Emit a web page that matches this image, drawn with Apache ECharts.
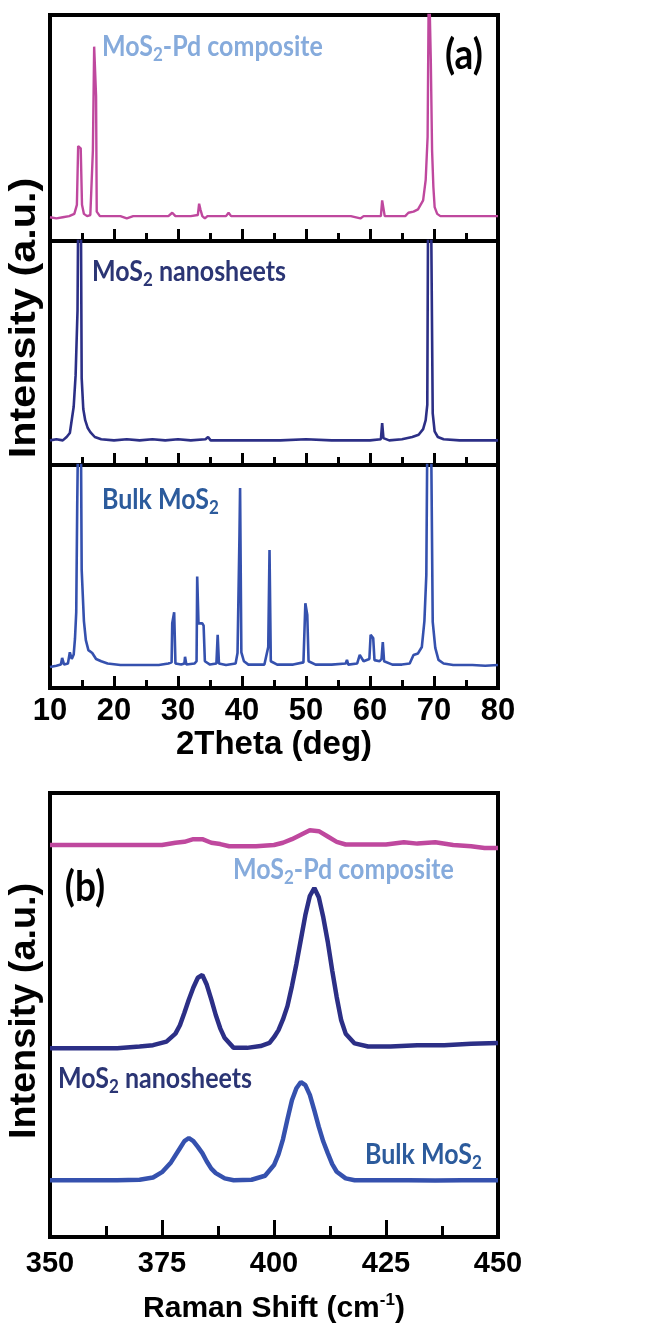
<!DOCTYPE html>
<html>
<head>
<meta charset="utf-8">
<script src="https://cdn.jsdelivr.net/npm/echarts@6/dist/echarts.min.js"></script>
<style>
  html, body { margin: 0; padding: 0; background: #fff; }
  #chart { width: 650px; height: 1330px; }
</style>
</head>
<body>
<div id="chart"></div>
<script>
// (a) XRD patterns, [2theta, intensity] (arbitrary units, 0-100 per panel)
const xrdComposite = [
  [10, 10.5], [11, 10], [12, 10.5], [13, 11], [13.8, 12], [14.2, 16], [14.4, 42], [14.6, 42],
  [14.8, 41], [15.0, 16], [15.3, 12], [15.8, 11], [16.3, 11.5], [16.7, 40], [16.9, 86], [17.0, 86],
  [17.2, 64], [17.3, 13], [17.8, 11], [19, 11], [21, 11], [22, 10], [23, 11], [25, 11], [27, 11],
  [28.5, 11], [29.1, 12.5], [29.6, 11], [32, 11], [33.1, 11.5], [33.3, 16.5], [33.5, 14], [33.8, 11],
  [34.2, 10], [34.6, 11], [36, 11], [37.5, 11], [37.9, 12.5], [38.3, 11], [42, 11], [45, 11],
  [47.5, 11], [50, 11], [52, 11], [55, 11], [57, 11], [58.5, 10], [59, 11], [61.7, 11], [61.9, 18],
  [62.1, 18], [62.3, 11], [64, 11], [65.5, 11], [66, 12.5], [66.8, 13], [67.5, 14], [68.3, 18],
  [68.7, 27], [69.0, 46], [69.2, 120], [69.35, 120], [69.5, 80], [69.7, 40], [69.9, 24], [70.1, 15],
  [70.5, 12], [71, 11], [72, 11], [75, 11], [78, 11], [80, 11]
];
const xrdNanosheets = [
  [10, 11], [11, 11.5], [12, 11], [12.6, 12.5], [13.1, 14.3], [13.7, 26], [14.0, 40], [14.3, 69],
  [14.45, 130], [14.8, 130], [14.95, 38.8], [15.2, 25], [15.5, 20], [15.9, 16.5], [16.3, 14.7],
  [17, 12.5], [18, 11.5], [20, 11], [22, 11.5], [24, 11], [26, 11.5], [28, 11], [30, 11.5],
  [32, 11], [34.3, 11.5], [34.7, 12.5], [35.1, 11], [38, 11], [42, 11], [46, 11], [50, 11.5],
  [54, 11], [58, 11], [60, 11], [61.7, 11.5], [61.9, 18.7], [62.1, 12], [63, 11], [65, 11.5],
  [66.6, 12.5], [67.6, 13.5], [68.3, 16], [68.7, 20], [68.95, 26.8], [69.1, 130], [69.5, 130],
  [69.8, 23], [70.1, 15], [70.6, 12.5], [71.5, 11.5], [74, 11], [77, 11], [80, 11]
];
const xrdBulk = [
  [10, 9.4], [11, 10], [11.7, 10.5], [11.9, 13.5], [12.2, 10.5], [12.8, 11], [13.1, 16],
  [13.4, 13], [13.7, 15], [13.9, 22], [14.1, 34], [14.25, 81], [14.45, 130], [14.8, 130], [14.95, 53],
  [15.3, 30], [15.6, 21.5], [16.0, 17], [16.6, 15.7], [17.2, 13], [18, 12], [19, 11], [21, 10.3],
  [24, 10.3], [27, 10.3], [28.5, 11], [29.0, 11.5], [29.1, 29], [29.4, 34], [29.6, 11], [30.5, 10.5],
  [31.0, 11], [31.1, 14], [31.3, 10.5], [32.6, 11], [32.9, 12], [33.0, 50], [33.2, 29], [33.5, 29],
  [33.8, 29], [34.0, 28], [34.2, 12], [35, 10.5], [36.0, 11], [36.2, 23.8], [36.4, 11], [37.5, 10.3],
  [39.0, 11], [39.3, 15.7], [39.6, 67.7], [39.7, 89.7], [39.9, 16], [40.3, 12], [41, 10.5],
  [43.5, 10.5], [44.1, 18.4], [44.3, 61.9], [44.5, 12], [45.5, 10.5], [48, 10.5], [49.6, 11.5],
  [49.9, 38], [50.2, 32.7], [50.4, 12], [51.5, 10.5], [54, 10.5], [56.2, 11], [56.4, 12.6],
  [56.6, 10.5], [58.0, 11], [58.4, 14.8], [59.0, 12], [59.9, 13], [60.1, 23.8], [60.5, 22.4],
  [60.7, 12.5], [61.5, 12], [61.8, 13], [62.0, 20.6], [62.2, 12], [63.5, 10.5], [65, 10.5],
  [66.2, 11], [66.8, 14.8], [67.5, 15.5], [68.1, 18.4], [68.5, 30], [68.8, 50.7], [69.0, 130],
  [69.5, 130], [69.8, 29.6], [70.2, 18], [70.7, 12.6], [71.5, 11], [73, 10.3], [76, 10.3],
  [78, 10], [80, 10.3]
];

// (b) Raman spectra, [shift, intensity]
const ramanComposite = [
  [350, 88.3], [360, 88.3], [370, 88.3], [375, 88.3], [378, 88.8], [380, 89.0], [382, 89.6],
  [384, 89.6], [386, 88.8], [388, 88.5], [390, 88.0], [393, 88.0], [396, 88.0], [400, 88.3],
  [402, 88.8], [404, 89.6], [406, 90.6], [408, 91.6], [410, 91.4], [412, 90.2], [414, 89.0],
  [416, 88.4], [420, 88.4], [425, 88.4], [429, 88.9], [432, 88.6], [436, 88.9], [440, 88.3],
  [444, 88.0], [447, 87.6], [450, 87.6]
];
const ramanNanosheets = [
  [350, 42.5], [355, 42.5], [360, 42.5], [365, 42.5], [370, 42.9], [373, 43.2], [376, 44.0],
  [378, 45.8], [379, 47.7], [380, 50.5], [381, 53.5], [382, 56.2], [383, 58.4], [384, 59.0],
  [385, 56.8], [386, 53.5], [387, 50.0], [388, 47.0], [389, 44.8], [391, 42.6], [394, 42.6],
  [397, 43.0], [399, 43.7], [400, 45.0], [401, 46.6], [402, 49.0], [403, 52.0], [404, 56.5],
  [405, 61.5], [406, 67.0], [407, 72.5], [408, 76.8], [409, 78.6], [410, 76.5], [411, 72.0],
  [412, 66.5], [413, 60.0], [414, 54.0], [415, 48.8], [416, 45.8], [418, 43.6], [421, 42.9],
  [426, 42.9], [432, 43.2], [438, 43.2], [444, 43.5], [450, 43.7]
];
const ramanBulk = [
  [350, 12.8], [355, 12.8], [360, 12.8], [365, 12.8], [370, 12.9], [373, 13.4], [375, 14.6],
  [377, 16.8], [379, 20.0], [380, 21.6], [381, 22.3], [382, 21.6], [383, 20.3], [384, 18.9],
  [385, 17.0], [386, 15.4], [387, 14.4], [389, 13.2], [391, 12.8], [395, 12.9], [398, 13.8],
  [400, 16.2], [401, 18.6], [402, 22.0], [403, 26.5], [404, 30.8], [405, 33.5], [406, 34.9],
  [407, 34.2], [408, 32.0], [409, 28.5], [410, 24.8], [411, 21.5], [412, 18.9], [413, 16.4],
  [414, 14.7], [416, 13.2], [418, 12.8], [425, 12.8], [430, 12.8], [436, 12.7], [442, 12.8],
  [450, 12.8]
];

const xrdTicks = { min: 10, max: 80, interval: 10 };
const ramanTicks = { min: 350, max: 450, interval: 25 };

const PINK = '#bf489e';
const NAVY = '#2c2f86';
const BLUE = '#3551ae';
const LBL_LIGHT = '#86abdc';
const LBL_NAVY = '#2b3574';
const LBL_BLUE = '#2c5b9c';
const TICK = '#000';
const ARIAL = '"Liberation Sans", Arial, sans-serif';
const CAL = 'Lato, "Open Sans", sans-serif';

const chart = echarts.init(document.getElementById('chart'));

function panelGrid(top, height) {
  return {
    left: 50, right: 152, top: top, height: height,
    show: true, borderColor: '#000', borderWidth: 4
  };
}

function bottomAxis(gridIndex, ticks, labels, tickLen, minorLen, fontSize, margin) {
  return {
    type: 'value', gridIndex: gridIndex,
    min: ticks.min, max: ticks.max, interval: ticks.interval,
    axisLine: { show: false },
    splitLine: { show: false },
    axisTick: { show: true, inside: true, length: tickLen, lineStyle: { color: TICK, width: 3 } },
    minorTick: { show: true, splitNumber: 2, length: minorLen, lineStyle: { color: TICK, width: 3 } },
    axisLabel: {
      show: labels, color: '#000', fontFamily: ARIAL, fontWeight: 'bold',
      fontSize: fontSize, margin: margin
    }
  };
}

function hiddenY(gridIndex) {
  return {
    type: 'value', gridIndex: gridIndex, min: 0, max: 100,
    axisLine: { show: false }, axisTick: { show: false }, axisLabel: { show: false }, splitLine: { show: false }
  };
}

function lineSeries(data, idx, color, width) {
  return {
    type: 'line', data: data, xAxisIndex: idx, yAxisIndex: idx,
    showSymbol: false, symbol: 'none', clip: true,
    lineStyle: { color: color, width: width },
    itemStyle: { color: color },
    emphasis: { disabled: true }
  };
}

// label with a subscript 2, built from rich text
function chemLabel(x, y, parts, color, size) {
  const sub = Math.round(size * 0.66);
  return {
    type: 'text', x: x, y: y, scaleY: 1.15,
    style: {
      text: parts,
      align: 'left', verticalAlign: 'middle',
      rich: {
        a: { fontFamily: CAL, fontWeight: 'bold', fontSize: size, fill: color, lineHeight: size + 6 },
        s: { fontFamily: CAL, fontWeight: 'bold', fontSize: sub, fill: color, lineHeight: sub, verticalAlign: 'bottom' }
      }
    }
  };
}

const option = {
  animation: false,
  grid: [
    panelGrid(15, 226),
    panelGrid(241, 224),
    panelGrid(465, 223),
    panelGrid(793, 444)
  ],
  xAxis: [
    bottomAxis(0, xrdTicks, false, 12, 8, 31, 8),
    bottomAxis(1, xrdTicks, false, 12, 8, 31, 8),
    Object.assign(bottomAxis(2, xrdTicks, true, 12, 8, 31, 8), {
      name: '2Theta (deg)', nameLocation: 'middle', nameGap: 40,
      nameTextStyle: { color: '#000', fontFamily: ARIAL, fontWeight: 'bold', fontSize: 33 }
    }),
    Object.assign(bottomAxis(3, ramanTicks, true, 17, 11, 29, 12), {
      name: '{a|Raman Shift (cm}{s|-1}{a|)}', nameLocation: 'middle', nameGap: 55,
      nameTextStyle: {
        color: '#000', fontFamily: ARIAL, fontWeight: 'bold', fontSize: 30,
        rich: {
          a: { fontFamily: ARIAL, fontWeight: 'bold', fontSize: 30, color: '#000', lineHeight: 34 },
          s: { fontFamily: ARIAL, fontWeight: 'bold', fontSize: 17, color: '#000', lineHeight: 20, verticalAlign: 'top' }
        }
      }
    })
  ],
  yAxis: [hiddenY(0), hiddenY(1), hiddenY(2), hiddenY(3)],
  series: [
    lineSeries(xrdComposite, 0, PINK, 2.4),
    lineSeries(xrdNanosheets, 1, NAVY, 2.6),
    lineSeries(xrdBulk, 2, BLUE, 2.6),
    lineSeries(ramanComposite, 3, PINK, 4.5),
    lineSeries(ramanNanosheets, 3, NAVY, 4.5),
    lineSeries(ramanBulk, 3, BLUE, 4.5)
  ],
  graphic: [
    // y axis titles
    {
      type: 'text', x: 25, y: 318, rotation: Math.PI / 2, scaleX: 1.15,
      style: { text: 'Intensity (a.u.)', fontFamily: ARIAL, fontWeight: 'bold', fontSize: 36, fill: '#000', align: 'center', verticalAlign: 'middle' }
    },
    {
      type: 'text', x: 25, y: 1011, rotation: Math.PI / 2, scaleX: 1.05,
      style: { text: 'Intensity (a.u.)', fontFamily: ARIAL, fontWeight: 'bold', fontSize: 36, fill: '#000', align: 'center', verticalAlign: 'middle' }
    },
    // panel tags
    {
      type: 'text', x: 464, y: 55, scaleY: 1.15,
      style: { text: '(a)', fontFamily: CAL, fontWeight: 'bold', fontSize: 37, fill: '#000', align: 'center', verticalAlign: 'middle' }
    },
    {
      type: 'text', x: 85, y: 887, scaleY: 1.15,
      style: { text: '(b)', fontFamily: CAL, fontWeight: 'bold', fontSize: 37, fill: '#000', align: 'center', verticalAlign: 'middle' }
    },
    // sample labels, panel (a)
    chemLabel(102, 47, '{a|MoS}{s|2}{a|-Pd composite}', LBL_LIGHT, 25),
    chemLabel(92, 272, '{a|MoS}{s|2}{a| nanosheets}', LBL_NAVY, 25),
    chemLabel(102, 500, '{a|Bulk MoS}{s|2}', LBL_BLUE, 25),
    // sample labels, panel (b)
    chemLabel(233, 870, '{a|MoS}{s|2}{a|-Pd composite}', LBL_LIGHT, 25),
    chemLabel(58, 1079, '{a|MoS}{s|2}{a| nanosheets}', LBL_NAVY, 25),
    chemLabel(365, 1155, '{a|Bulk MoS}{s|2}', LBL_BLUE, 25)
  ]
};

chart.setOption(option);
</script>
</body>
</html>
